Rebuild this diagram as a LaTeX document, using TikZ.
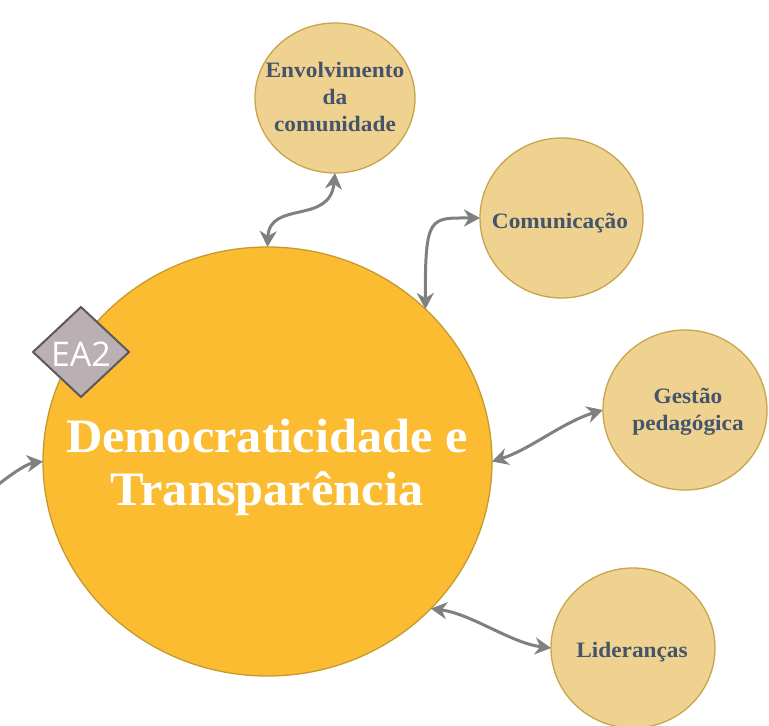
\documentclass[tikz,border=0pt]{standalone}
\usepackage{fontspec}
\setmainfont{Liberation Serif}
\newfontfamily\smallserif[FakeStretch=1.06]{Liberation Serif}
\newfontfamily\bigserif[FakeStretch=1.05]{Liberation Serif}
\newfontfamily\easans{Open Sans}
\usetikzlibrary{shapes.geometric,arrows.meta}
\definecolor{mainfill}{RGB}{252,188,50}
\definecolor{mainborder}{RGB}{197,154,46}
\definecolor{smallfill}{RGB}{240,210,144}
\definecolor{smallborder}{RGB}{201,165,74}
\definecolor{textblue}{RGB}{68,84,106}
\definecolor{arrowgray}{RGB}{128,128,128}
\definecolor{diafill}{RGB}{186,175,178}
\definecolor{diaborder}{RGB}{90,90,90}
\tikzset{
  mainnode/.style={ellipse,draw=mainborder,fill=mainfill,line width=1.3pt,
    minimum width=449pt,minimum height=429pt,inner sep=0pt,outer sep=0pt},
  topic/.style={ellipse,draw=smallborder,fill=smallfill,line width=1.3pt,
    inner sep=0pt,outer sep=0pt},
  topictext/.style={text=textblue,font=\smallserif\bfseries\fontsize{22}{27}\selectfont,align=center,inner sep=0pt},
  link/.style={draw=arrowgray,line width=3pt,
    arrows={Stealth[length=16pt,width=17pt,inset=5pt]-Stealth[length=16pt,width=17pt,inset=5pt]}},
  inlink/.style={draw=arrowgray,line width=3pt,-{Stealth[length=16pt,width=17pt,inset=5pt]}},
}
\begin{document}
\begin{tikzpicture}[x=1pt,y=-1pt]
\clip (0,0) rectangle (769,726);
\fill[white] (0,0) rectangle (769,726);
% main ellipse
\node[mainnode] (main) at (267.5,461.5) {};
% topic circles
\node[topic,minimum width=160pt,minimum height=150pt] (env) at (335,98) {};
\node[topic,minimum width=163pt,minimum height=160pt] (com) at (561.5,218) {};
\node[topic,minimum width=164pt,minimum height=160pt] (ges) at (685,410) {};
\node[topic,minimum width=164pt,minimum height=160pt] (lid) at (633,648) {};
% texts
\node[topictext] (envt) at (335,97) {Envolvimento\\da\\comunidade};
\node[topictext,anchor=base] (comt) at (560,228) {Comunicação};
\node[topictext] (gest) at (688,412) {Gestão\\pedagógica};
\node[topictext,anchor=base] (lidt) at (632,657) {Lideranças};
\node[text=white,font=\bigserif\bfseries\fontsize{48}{53}\selectfont,align=center,inner sep=0pt] (maint) at (267,467) {Democraticidade e\\Transparência};
% EA2 diamond
\draw[fill=diafill,draw=diaborder,line width=2pt,line join=miter] (81,307) -- (129,352) -- (81,397) -- (33,352) -- cycle;
\node[text=white,font=\easans\fontsize{34}{34}\selectfont,inner sep=0pt] (ea) at (81,354) {EA2};
% connectors
\draw[link] (main.90) .. controls +(2,-47) and +(-5,52) .. (env.-90);
\draw[link] (main.44.3) .. controls (425,215) and (430,218) .. (com.180);
\draw[link] (main.0) .. controls +(38,-12) and +(-40,12) .. (ges.180);
\draw[link] (main.-42.5) .. controls +(40,5) and +(-40,-5) .. (lid.180);
\coordinate (leftin) at (-1,484);
\draw[inlink] (leftin) .. controls +(15,-12) and +(-15,2) .. (main.180);
\end{tikzpicture}
\end{document}
